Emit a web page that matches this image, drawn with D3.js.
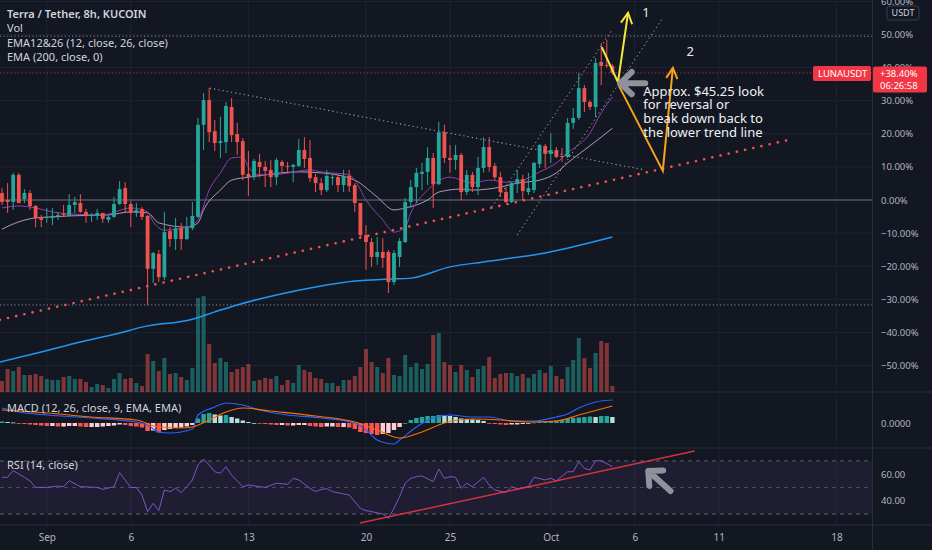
<!DOCTYPE html>
<html><head><meta charset="utf-8">
<script src="https://cdn.jsdelivr.net/npm/d3@7/dist/d3.min.js"></script>
<style>html,body{margin:0;padding:0;background:#131722;overflow:hidden}svg{display:block;font-family:"Noto Sans",sans-serif}</style>
</head><body>
<svg id="chart" width="932" height="550"></svg>
<script>
// ---------- DATA (percent change vs. base, 8h candles starting 2021-08-29 08:00 UTC) ----------
const opens = [2.1,0.0,-0.6,7.6,0.3,2.1,-1.8,-5.1,-5.4,-5.4,
 -4.8,-4.2,-4.8,-1.5,-0.9,-3.6,-4.8,-4.8,-3.9,-6.0,
 -5.1,-1.2,3.6,-1.2,-3.9,-2.7,-4.8,-20.8,-16.3,-23.3,
 -9.4,-11.8,-8.5,-11.8,-8.5,-5.1,22.7,30.2,20.8,17.2,
 17.5,28.1,19.9,17.8,7.9,6.9,11.5,10.0,9.1,6.9,
 11.5,10.3,10.0,10.3,15.1,12.7,6.9,5.1,3.0,6.6,
 6.9,4.5,7.3,4.5,-0.9,-10.6,-12.7,-17.2,-15.7,-15.7,
 -24.8,-17.2,-12.7,-0.6,3.9,7.9,8.5,12.7,4.8,20.5,
 12.7,12.1,13.6,2.4,7.6,3.9,9.7,16.0,10.3,6.9,
 2.4,-0.6,4.8,6.3,2.4,3.0,10.9,16.3,13.9,15.1,
 13.3,13.0,23.3,24.8,33.8,29.6,28.1,41.7,40.8,40.5];
const highs = [3.6,5.1,8.2,8.2,3.3,3.0,-1.5,-4.5,-2.4,-2.4,
 -3.6,-1.5,1.8,0.9,1.8,-2.7,-3.9,-2.7,-3.9,-4.5,
 0.9,5.7,5.4,-0.3,-0.9,-2.1,-4.5,-15.7,-15.1,-3.6,
 -8.2,-5.4,-6.9,-5.1,-0.6,24.8,32.3,33.8,24.2,25.1,
 29.6,30.8,23.3,18.7,14.8,12.4,13.9,11.8,12.1,12.7,
 12.1,11.5,10.9,18.4,19.0,18.1,7.9,6.6,9.1,7.6,
 7.6,9.1,9.1,5.1,-0.9,-7.6,-11.5,-11.2,-11.5,-15.1,
 -15.1,-11.5,0.6,6.0,9.7,11.2,16.0,14.2,23.6,22.7,
 16.6,16.6,14.2,9.1,8.5,13.0,19.0,19.0,11.2,8.5,
 3.9,5.4,9.1,7.6,8.2,11.5,16.9,16.9,20.2,16.0,
 15.7,24.8,27.8,38.4,34.7,30.2,42.9,47.4,48.3,41.1];
const lows = [-1.5,-3.9,-3.0,-1.0,-0.9,-3.0,-8.2,-8.2,-6.9,-7.6,
 -6.0,-5.1,-5.1,-3.9,-3.9,-6.9,-6.6,-6.0,-6.9,-6.9,
 -5.4,-1.5,-3.9,-8.2,-5.1,-6.0,-31.7,-25.1,-24.8,-24.2,
 -14.2,-15.1,-15.1,-12.1,-9.1,-5.4,15.1,17.5,14.8,12.7,
 14.2,17.5,13.6,6.0,1.2,6.0,6.9,3.9,3.9,4.5,
 8.2,8.5,5.4,10.0,9.7,5.4,2.4,1.5,2.4,4.5,
 2.4,2.4,2.4,-3.6,-11.2,-21.1,-20.2,-19.6,-20.5,-28.1,
 -25.7,-20.2,-13.0,-2.4,-0.9,3.0,4.5,-2.4,4.5,11.2,
 8.2,9.1,0.0,1.5,2.4,1.5,8.2,8.5,6.0,0.9,
 -0.9,-0.9,2.1,0.0,1.5,2.1,9.7,9.7,11.2,12.7,
 11.5,12.7,21.5,24.2,26.6,27.2,25.1,34.7,39.9,37.8];
const closes = [-0.6,-0.6,7.6,-0.9,2.1,-1.8,-5.4,-6.0,-5.1,-4.8,
 -4.5,-4.5,-1.5,-0.6,-3.6,-4.8,-4.5,-3.9,-5.7,-5.1,
 -1.2,3.3,-1.2,-3.9,-3.0,-5.1,-20.8,-16.0,-23.3,-9.7,
 -11.8,-8.5,-11.8,-8.2,-4.8,22.7,30.2,20.5,17.2,17.8,
 28.4,19.6,17.5,7.6,6.9,11.8,10.0,8.8,6.9,12.1,
 10.3,10.0,10.6,15.1,12.4,6.6,5.1,3.0,7.3,6.9,
 4.5,7.3,4.2,-0.9,-10.6,-12.7,-17.2,-15.7,-17.5,-24.8,
 -16.0,-12.4,-0.6,3.9,8.2,8.5,12.7,4.8,20.5,12.7,
 12.1,13.6,2.4,7.6,3.9,9.7,16.0,10.0,6.9,2.4,
 -0.6,5.1,6.3,2.7,3.6,11.2,16.6,13.9,15.1,13.0,
 13.0,23.3,24.8,33.8,29.6,28.1,41.4,40.5,40.5,38.4];
const volumes = [11,23,21,25,17,17,18,16,13,12,
 12,15,16,13,13,10,5,8,7,4,
 13,19,13,14,9,6,38,31,21,34,
 18,19,15,12,24,94,96,48,29,34,
 30,20,23,25,28,11,12,14,13,16,
 7,12,9,27,22,20,14,13,9,9,
 6,12,12,16,25,43,30,25,19,34,
 17,16,37,25,29,23,28,57,59,30,
 27,20,27,22,15,23,26,35,14,18,
 19,19,16,18,14,18,22,19,26,16,
 13,25,32,54,34,24,39,51,49,6];

const ema12Idx = [0,3,6,9,12,18,23,26,27,29,33,35,37,39,41,43,44,46,50,55,57,62,63,65,68,70,72,73,76,80,84,87,90,93,96,99,101,105,107,109];
const ema12Val = [-2.4,-1.8,-2.4,-3.6,-4.2,-4.5,-2.4,-3.6,-6.6,-9.1,-8.2,-6.0,3.0,8.2,12.7,13.0,10.0,7.6,7.9,9.1,8.5,7.6,6.0,0.0,-6.0,-9.7,-8.2,-3.9,3.0,6.9,5.1,6.0,5.4,6.0,8.5,11.2,14.2,20.2,26.3,31.1];
const ema26Idx = [0,3,6,9,12,19,23,26,28,33,35,36,39,41,44,47,53,57,63,67,70,72,76,78,82,84,89,92,96,99,101,104,107,109];
const ema26Val = [-8.8,-6.6,-5.4,-5.1,-4.8,-4.5,-3.6,-3.9,-6.9,-8.2,-6.9,-3.0,3.0,6.0,6.9,7.6,8.5,8.2,6.0,0.9,-3.0,-2.4,0.0,2.4,3.3,3.0,3.9,5.1,6.0,8.2,11.2,15.1,19.0,21.7];
const ema200Idx = [-1,7,14,21,25,34,38,42,49,56,63,69,73,80,86,97,109];
const ema200Val = [-49.2,-45.9,-42.9,-40.2,-38.4,-36.0,-33.8,-31.7,-28.7,-26.3,-24.5,-23.9,-23.6,-20.2,-18.7,-16.0,-11.2];

const macdIdx = [0,3,8,16,24,26,28,30,34,35,38,40,43,46,51,57,63,65,67,70,71,74,77,80,84,87,91,95,99,101,103,106,109];
const macdVal = [1.5,1.1,0.8,0.5,0.1,-0.2,-0.9,-1.0,-0.6,0.8,1.6,2.0,1.8,1.3,0.8,0.5,0.0,-0.7,-1.7,-2.1,-1.7,-0.4,0.5,0.8,0.6,0.6,0.2,0.2,0.6,0.9,1.5,2.1,2.3];
const signalIdx = [0,8,16,24,28,32,34,37,40,43,48,56,63,67,71,75,79,84,89,94,99,103,109];
const signalVal = [1.3,1.0,0.6,0.3,-0.4,-0.5,-0.4,0.3,1.1,1.5,1.2,0.7,0.1,-0.7,-1.5,-0.9,0.0,0.4,0.3,0.1,0.2,0.8,1.7];
const histVal = [0.15,0.1,0.05,-0.05,-0.1,-0.15,-0.2,-0.25,-0.3,-0.3,
 -0.35,-0.35,-0.3,-0.3,-0.35,-0.4,-0.4,-0.4,-0.35,-0.3,
 -0.25,-0.15,-0.2,-0.3,-0.35,-0.45,-0.8,-0.75,-0.95,-0.7,
 -0.6,-0.5,-0.45,-0.35,-0.2,0.45,0.9,1.0,0.85,0.75,
 0.8,0.6,0.45,0.25,0.1,0.0,-0.05,-0.1,-0.15,-0.2,
 -0.2,-0.25,-0.25,-0.2,-0.2,-0.3,-0.35,-0.4,-0.35,-0.35,
 -0.4,-0.4,-0.45,-0.6,-0.9,-1.0,-1.1,-1.2,-1.1,-1.0,
 -0.7,-0.4,0.0,0.3,0.5,0.6,0.7,0.7,0.8,0.75,
 0.7,0.6,0.45,0.4,0.35,0.3,0.2,-0.05,-0.1,-0.15,
 -0.2,-0.15,-0.15,-0.1,-0.05,0.05,0.1,0.15,0.2,0.25,
 0.3,0.4,0.5,0.55,0.6,0.65,0.6,0.7,0.7,0.6];

const rsiIdx = [0,1,2,4,5,6,8,10,11,12,14,17,18,20,21,23,24,25,26,27,28,29,30,31,32,33,34,35,36,37,38,39,40,41,43,44,46,47,49,51,52,53,55,56,57,58,59,61,62,64,65,66,68,69,70,71,72,73,74,75,77,78,79,80,81,82,83,84,86,87,88,90,91,92,94,95,97,98,99,101,102,103,104,105,106,107,109];
const rsiVal = [57.7,57.7,62.7,57.7,55.1,50.1,50.1,51.1,50.6,55.1,50.6,50.1,48.6,50.6,61.2,50.1,49.9,44.3,31.8,38.1,32.5,48.1,46.9,49.4,46.2,50.6,55.7,67.0,71.5,67.0,61.9,60.7,65.7,59.4,50.6,51.9,50.6,50.1,53.2,52.4,56.9,55.7,49.4,46.9,48.6,49.1,46.9,45.1,44.3,34.3,32.5,31.8,30.0,26.8,34.3,43.1,53.2,56.9,58.2,58.7,54.4,64.0,56.9,58.2,57.7,49.4,53.2,50.6,57.7,51.9,48.1,46.2,50.6,48.9,50.6,57.7,55.7,56.9,55.1,61.9,61.9,69.5,64.5,63.2,70.2,70.2,65.7];

const priceTicks = [60,50,40,30,20,10,0,-10,-20,-30,-40,-50];
// [year, month (1-12), day]
const tickDates = [[2021,9,1],[2021,9,6],[2021,9,13],[2021,9,20],[2021,9,25],[2021,10,1],[2021,10,6],[2021,10,11],[2021,10,18]];
const tickLabels = ["Sep","6","13","20","25","Oct","6","11","18"];
const levels = [49.5,-31.7];
const legendLines = ["Terra / Tether, 8h, KUCOIN","Vol","EMA12&26 (12, close, 26, close)","EMA (200, close, 0)"];
const noteLines = ["Approx. $45.25 look","for reversal or","break down back to","the lower trend line"];
// drawing anchors: [candle index, percent]
const redTrend = [[-0.4,-36.2],[141.1,18.4]];
const resistLine = [[37.1,33.8],[114.8,9.1]];
const channelUpper = [[87.5,-2.1],[108.9,51.3]];
const channelLower = [[92,-10.6],[118,55.0]];
const yellowPath = [[107.1,46.2],[110,35.6],[111.8,56.5]];
const orangePath = [[110.1,34.7],[118,8.8],[119.8,39.9]];
const greyArrowTip = [110.4,35.3];
const label1 = [115,56.8], label2 = [122.9,45.0], noteAnchor = [114.5,32.9];
const rsiTrend = [[63.9,23.2],[123.7,77.5]];
const rsiArrowTip = [115.4,62.5];

// ---------- SCALES ----------
const t0 = Date.UTC(2021,7,29,8), step = 8*3600e3;
const tOf = i => new Date(t0 + i*step);
const PR = 872;
const x = d3.scaleUtc().domain([tOf(-0.357), tOf(155.36)]).range([0, PR]);
const y = d3.scaleLinear().domain([-58.0, 60.42]).range([392, 0]);
const yVol = d3.scaleLinear().domain([0,100]).range([392,292]);
const yMacd = d3.scaleLinear().domain([-2.5,3.1]).range([448,392]);
const yRsi = d3.scaleLinear().domain([21.7,79.8]).range([525,448]);
const tickD = tickDates.map(d => new Date(Date.UTC(d[0],d[1]-1,d[2])));
const X = i => x(tOf(i));

const svg = d3.select("#chart");
svg.append("rect").attr("width",932).attr("height",550).attr("fill","#131722");
const defs = svg.append("defs");
defs.append("clipPath").attr("id","cm").append("rect").attr("x",0).attr("y",0).attr("width",PR).attr("height",392);
defs.append("clipPath").attr("id","cmacd").append("rect").attr("x",0).attr("y",392).attr("width",PR).attr("height",56);
defs.append("clipPath").attr("id","crsi").append("rect").attr("x",0).attr("y",448).attr("width",PR).attr("height",77);

// grid
const grid = svg.append("g");
grid.selectAll("line.gv").data(tickD).join("line").attr("class","gv")
  .attr("x1",d=>x(d)).attr("x2",d=>x(d)).attr("y1",0).attr("y2",525).attr("stroke","#1f2330");
grid.selectAll("line.gh").data(priceTicks).join("line").attr("class","gh")
  .attr("x1",0).attr("x2",PR).attr("y1",d=>y(d)).attr("y2",d=>y(d)).attr("stroke","#1f2330");

// separators
const sep = svg.append("g").attr("stroke","#2a2e39");
[392,448,525].forEach(v=>sep.append("line").attr("x1",0).attr("x2",932).attr("y1",v).attr("y2",v));
sep.append("line").attr("x1",PR+0.5).attr("x2",PR+0.5).attr("y1",0).attr("y2",550);

// ---------- MAIN PANEL ----------
const candles = d3.range(closes.length).map(i=>({i,o:opens[i],h:highs[i],l:lows[i],c:closes[i],v:volumes[i]}));
const isUp = d => d.c >= d.o;
const gm = svg.append("g").attr("clip-path","url(#cm)");
gm.selectAll("rect.vol").data(candles).join("rect").attr("class","vol")
  .attr("x",d=>X(d.i)-2).attr("width",4).attr("y",d=>yVol(d.v)).attr("height",d=>yVol(0)-yVol(d.v))
  .attr("fill",d=>isUp(d)?"rgba(38,166,154,0.5)":"rgba(239,83,80,0.5)");

// zero line & levels
gm.append("line").attr("x1",0).attr("x2",PR).attr("y1",y(0)).attr("y2",y(0)).attr("stroke","#6a6d78");
gm.selectAll("line.lvl").data(levels).join("line").attr("class","lvl")
  .attr("x1",0).attr("x2",PR).attr("y1",d=>y(d)).attr("y2",d=>y(d))
  .attr("stroke","#8a8d96").attr("stroke-dasharray","1.2 2.4");
const last = closes[closes.length-1];
gm.append("line").attr("x1",0).attr("x2",PR).attr("y1",y(last)).attr("y2",y(last))
  .attr("stroke","#f23645").attr("stroke-opacity",0.75).attr("stroke-dasharray","1.2 2.4");

// EMAs
const lineGen = sc => d3.line().x(d=>X(d[0])).y(d=>sc(d[1])).curve(d3.curveMonotoneX);
gm.append("path").datum(d3.zip(ema200Idx,ema200Val)).attr("d",lineGen(y)).attr("fill","none").attr("stroke","#2196f3").attr("stroke-width",1.5);
gm.append("path").datum(d3.zip(ema26Idx,ema26Val)).attr("d",lineGen(y)).attr("fill","none").attr("stroke","#cdb0d0").attr("stroke-opacity",0.85).attr("stroke-width",1);
gm.append("path").datum(d3.zip(ema12Idx,ema12Val)).attr("d",lineGen(y)).attr("fill","none").attr("stroke","#8e3fb0").attr("stroke-width",1);

// candles
const cg = gm.selectAll("g.c").data(candles).join("g").attr("class","c");
cg.append("line").attr("x1",d=>X(d.i)).attr("x2",d=>X(d.i)).attr("y1",d=>y(d.h)).attr("y2",d=>y(d.l))
  .attr("stroke",d=>isUp(d)?"#26a69a":"#ef5350").attr("stroke-width",1);
cg.append("rect").attr("x",d=>X(d.i)-1.9).attr("width",3.8)
  .attr("y",d=>y(Math.max(d.o,d.c))).attr("height",d=>Math.max(1,Math.abs(y(d.o)-y(d.c))))
  .attr("fill",d=>isUp(d)?"#26a69a":"#ef5350");

// drawings
const P = p => [X(p[0]), y(p[1])];
const poly = (pts, sc) => d3.line()(pts.map(p=>[X(p[0]), sc(p[1])]));
gm.append("path").attr("d",poly(redTrend,y)).attr("fill","none").attr("stroke","#ef5350").attr("stroke-width",2.6)
  .attr("stroke-linecap","round").attr("stroke-dasharray","0.1 8.3");
gm.append("path").attr("d",poly(resistLine,y)).attr("fill","none").attr("stroke","#8fa08f").attr("stroke-width",1.1).attr("stroke-dasharray","1.3 3");
[channelUpper,channelLower].forEach(c=>gm.append("path").attr("d",poly(c,y)).attr("fill","none")
  .attr("stroke","#cfc9a0").attr("stroke-opacity",0.8).attr("stroke-width",1).attr("stroke-dasharray","1.3 3"));

function arrowHead(g, from, tip, color, len, spread){
  const a = Math.atan2(from[1]-tip[1], from[0]-tip[0]);
  const s = spread*Math.PI/180;
  const p1 = [tip[0]+len*Math.cos(a+s), tip[1]+len*Math.sin(a+s)];
  const p2 = [tip[0]+len*Math.cos(a-s), tip[1]+len*Math.sin(a-s)];
  g.append("path").attr("d",d3.line()([p1,tip,p2])).attr("fill","none").attr("stroke",color).attr("stroke-width",2).attr("stroke-linejoin","miter");
}
function drawArrowPath(pts, color){
  gm.append("path").attr("d",poly(pts,y)).attr("fill","none").attr("stroke",color).attr("stroke-width",2).attr("stroke-linejoin","miter");
  arrowHead(gm, P(pts[pts.length-2]), P(pts[pts.length-1]), color, 12, 28);
}
drawArrowPath(orangePath, "#f7a21b");
drawArrowPath(yellowPath, "#f5e63c");

function fatArrow(g, tip, dirDeg, shaft, arm){
  const a = dirDeg*Math.PI/180, s = 44*Math.PI/180;
  const tail = [tip[0]+shaft*Math.cos(a), tip[1]+shaft*Math.sin(a)];
  const a1 = [tip[0]+arm*Math.cos(a+s), tip[1]+arm*Math.sin(a+s)];
  const a2 = [tip[0]+arm*Math.cos(a-s), tip[1]+arm*Math.sin(a-s)];
  g.append("path").attr("d",d3.line()([a1,tip,a2])+d3.line()([tip,tail])).attr("fill","none")
    .attr("stroke","#8f929b").attr("stroke-width",6).attr("stroke-linecap","round").attr("stroke-linejoin","round");
}
fatArrow(gm, P(greyArrowTip), 0, 25, 16);

const lbl = svg.append("g").attr("fill","#e8eaed").attr("font-size",13);
lbl.append("text").attr("x",X(label1[0])).attr("y",y(label1[1])).attr("dy","0.35em").attr("text-anchor","middle").text("1");
lbl.append("text").attr("x",X(label2[0])).attr("y",y(label2[1])).attr("dy","0.35em").attr("text-anchor","middle").text("2");
const note = svg.append("text").attr("fill","#f0f1f3").attr("font-size",13);
noteLines.forEach((t,k)=>note.append("tspan").attr("x",X(noteAnchor[0])).attr("y",y(noteAnchor[1])+k*13.7).attr("dy","0.35em").text(t));

// legend
const lg = svg.append("g").attr("fill","#d1d4dc").attr("font-size",11);
legendLines.forEach((t,k)=>lg.append("text").attr("x",7).attr("y",18+k*14.4).attr("font-weight",k===0?600:400).text(t));

// ---------- MACD PANEL ----------
const gmac = svg.append("g").attr("clip-path","url(#cmacd)");
const hist = histVal.map((h,i)=>({i,h,prev:i?histVal[i-1]:h}));
gmac.selectAll("rect.h").data(hist).join("rect").attr("class","h")
  .attr("x",d=>X(d.i)-2.2).attr("width",4.4)
  .attr("y",d=>yMacd(Math.max(0,d.h))).attr("height",d=>Math.max(0.8,Math.abs(yMacd(d.h)-yMacd(0))))
  .attr("fill",d=>d.h>=0?(d.h>=d.prev?"#26a69a":"#b2dfdb"):(d.h<d.prev?"#ff5252":"#ffcdd2"));
gmac.append("path").datum(d3.zip(macdIdx,macdVal)).attr("d",lineGen(yMacd)).attr("fill","none").attr("stroke","#2962ff").attr("stroke-width",1.2);
gmac.append("path").datum(d3.zip(signalIdx,signalVal)).attr("d",lineGen(yMacd)).attr("fill","none").attr("stroke","#ff6d00").attr("stroke-width",1.2);
svg.append("text").attr("x",7).attr("y",412).attr("fill","#d1d4dc").attr("font-size",11).text("MACD (12, 26, close, 9, EMA, EMA)");

// ---------- RSI PANEL ----------
const grsi = svg.append("g").attr("clip-path","url(#crsi)");
grsi.append("rect").attr("x",0).attr("width",PR).attr("y",yRsi(70)).attr("height",yRsi(30)-yRsi(70)).attr("fill","rgba(126,87,194,0.1)");
grsi.selectAll("line.rl").data([70,50,30]).join("line").attr("class","rl")
  .attr("x1",0).attr("x2",PR).attr("y1",d=>yRsi(d)).attr("y2",d=>yRsi(d))
  .attr("stroke","#787b86").attr("stroke-opacity",d=>d===50?0.5:0.75).attr("stroke-dasharray","4 4");
grsi.append("path").datum(d3.zip(rsiIdx,rsiVal)).attr("d",lineGen(yRsi).curve(d3.curveLinear)).attr("fill","none").attr("stroke","#7e57c2").attr("stroke-width",1);
grsi.append("path").attr("d",poly(rsiTrend,yRsi)).attr("stroke","#f23645").attr("stroke-opacity",0.85).attr("stroke-width",1.5);
fatArrow(grsi, [X(rsiArrowTip[0]), yRsi(rsiArrowTip[1])], 42, 30, 15);
svg.append("text").attr("x",7).attr("y",469).attr("fill","#d1d4dc").attr("font-size",11).text("RSI (14, close)");

// ---------- AXES ----------
function styleAxis(g, size){
  g.select(".domain").remove();
  g.selectAll(".tick line").remove();
  g.selectAll("text").attr("fill","#b2b5be").attr("font-size",size).attr("font-family","\"Noto Sans\",sans-serif");
}
svg.append("g").attr("transform",`translate(${PR},0)`)
  .call(d3.axisRight(y).tickValues(priceTicks).tickFormat(v=>d3.format(".2f")(v)+"%").tickSize(0).tickPadding(9))
  .call(g=>styleAxis(g,9.5));
svg.append("g").attr("transform",`translate(${PR},0)`)
  .call(d3.axisRight(yMacd).tickValues([0]).tickFormat(d3.format(".4f")).tickSize(0).tickPadding(9))
  .call(g=>styleAxis(g,9.5));
svg.append("g").attr("transform",`translate(${PR},0)`)
  .call(d3.axisRight(yRsi).tickValues([60,40]).tickFormat(d3.format(".2f")).tickSize(0).tickPadding(9))
  .call(g=>styleAxis(g,9.5));
svg.append("g").attr("transform","translate(0,525)")
  .call(d3.axisBottom(x).tickValues(tickD).tickFormat((d,i)=>tickLabels[i]).tickSize(0).tickPadding(9))
  .call(g=>styleAxis(g,10));

// USDT box
svg.append("rect").attr("x",887).attr("y",6).attr("width",32).attr("height",14).attr("rx",3)
  .attr("fill","#131722").attr("stroke","#3a3e4a");
svg.append("text").attr("x",903).attr("y",13).attr("dy","0.35em").attr("text-anchor","middle").attr("fill","#d1d4dc").attr("font-size",9).text("USDT");

// price labels
const py = y(last);
svg.append("rect").attr("x",813).attr("y",py-7).attr("width",58).attr("height",15).attr("rx",2).attr("fill","#f23645");
svg.append("text").attr("x",818).attr("y",py+0.5).attr("dy","0.35em").attr("fill","#fff").attr("font-size",9.5).text("LUNAUSDT");
svg.append("rect").attr("x",PR+1).attr("y",py-6.5).attr("width",54).attr("height",26).attr("rx",2).attr("fill","#f23645");
svg.append("text").attr("x",PR+8).attr("y",py+1).attr("dy","0.35em").attr("fill","#fff").attr("font-size",9.5).text(d3.format("+.2f")(last)+"%");
svg.append("text").attr("x",PR+8).attr("y",py+13).attr("dy","0.35em").attr("fill","#fff").attr("font-size",9.5).text("06:26:58");
</script></body></html>
